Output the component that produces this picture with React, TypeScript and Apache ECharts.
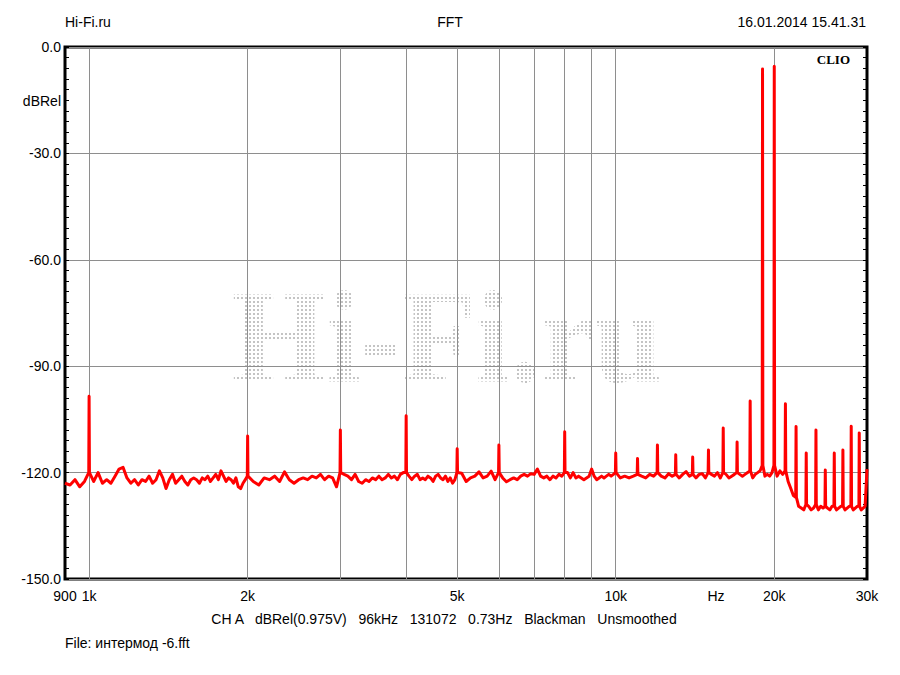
import React, { useEffect, useRef } from "react";
import * as echarts from "echarts";

// Noise floor segments: [start Hz, step Hz, dBRel values]
const noiseLowStart = 900;
const noiseLowStep = 20;
const noiseLow = [
  -123, -123.5, -122, -124, -122.5, -121, -122.5, -120, -123, -122,
  -123, -121, -119, -118.5, -121.5, -123, -122, -123.5, -122, -122.5,
  -121, -123, -122, -119.5, -121.5, -124.5, -122, -120.5, -123, -122,
  -121, -122.5, -123.5, -122, -121.5, -122, -123, -121.5, -122, -121,
  -122.5, -121.5, -120.5, -122, -119.5, -121, -122.5, -121.5, -122, -123,
  -121.5, -124, -124.5, -123, -122,
];

const noiseMidStart = 2000;
const noiseMidStep = 50;
const noiseMid = [
  -121, -122.5, -123.5, -121.5, -122, -121, -122.5, -119.8, -122, -123,
  -122, -121.5, -122, -121, -121.5, -120.5, -122, -121, -121.5, -124,
  -120.5, -120.5, -121, -122, -120.5, -122.5, -123, -122, -122.5, -121.5,
  -122, -121, -122, -121.5, -120.5, -121.5, -121, -122, -120.5, -120,
  -120.5, -121, -122, -121, -120.5, -122, -121.5, -122, -121, -121.5,
  -122.5, -121, -120.5, -121.5, -122, -121, -122.5, -121.5, -123, -122,
];

const noiseHighStart = 5000;
const noiseHighStep = 100;
const noiseHigh = [
  -121, -120.2, -122.5, -121.5, -121, -119.8, -121.5, -121, -119.6, -122,
  -121, -121.5, -122.6, -122, -121.5, -122, -121, -120.5, -121, -120.3,
  -120.5, -119, -121, -121.5, -121, -122, -121, -121.5, -120.5, -121,
  -120.5, -120, -121.5, -120, -121.5, -121, -121.5, -122, -121.5, -121,
  -119, -121, -122, -121.5, -121, -121.5, -121, -120.5, -121, -120.5,
];

const noiseTopStart = 10000;
const noiseTopStep = 200;
const noiseTop = [
  -120.5, -121.5, -121, -121.5, -121, -120.5, -121, -121.5, -120.5, -121,
  -120.5, -121, -121.5, -120.3, -121, -121, -121.5, -120.5, -119.7, -121,
  -121, -121.5, -120.5, -120.3, -121.5, -121, -120.5, -121, -120, -121.5,
  -121, -120.5, -121.5, -121, -120.5, -121, -120.5, -121, -120.5, -120,
  -120.5, -121.5, -120.5, -120, -119.5, -120, -121, -120.5, -121, -120,
];

const noiseUltraStart = 20000;
const noiseUltraStep = 250;
const noiseUltra = [
  -120, -121, -119.5, -120.5, -121, -122.5, -124.5, -126.5, -128, -129.5,
  -130, -130.5, -130, -129.5, -130.5, -130, -130, -130.5, -129.5, -130,
  -130.5, -130, -130.5, -129.5, -130, -130.5, -130, -129.5, -130, -130.5,
  -130, -129.5, -130, -130.5, -130, -129.5, -130, -130.5, -130, -129.5,
  -119,
];

// Spectral lines: [frequency Hz, peak dBRel, skirt dBRel]
const peaks: [number, number, number][] = [
  [1000, -98.5, -120],
  [2000, -109.7, -121],
  [3000, -108, -120],
  [4000, -104, -120],
  [5000, -113.3, -120],
  [6000, -112.2, -120],
  [8000, -108.5, -120],
  [10000, -114.5, -120],
  [11000, -116, -120.5],
  [12000, -112.2, -120],
  [13000, -115, -120.5],
  [14000, -115.6, -120.5],
  [15000, -113.6, -120],
  [16000, -107.4, -120],
  [17000, -111.4, -120],
  [18000, -99.8, -119.5],
  [19000, -6.2, -118],
  [20000, -5.4, -118],
  [21000, -100.6, -119.5],
  [22000, -107, -127],
  [23000, -114.5, -129],
  [24000, -108, -129],
  [25000, -119.3, -129.5],
  [26000, -114.5, -129.5],
  [27000, -113.6, -129.5],
  [28000, -106.9, -129.5],
  [29000, -108.8, -129.5],
];

const xLabelFreqs = [900, 1000, 2000, 5000, 10000, 15500, 20000, 30000];
const xLabelTexts = ["900", "1k", "2k", "5k", "10k", "Hz", "20k", "30k"];
const gridFreqs = [1000, 2000, 3000, 4000, 5000, 6000, 7000, 8000, 9000, 10000, 20000];
const yMin = -150;
const yMax = 0;
const yStep = 30;

function segment(start: number, step: number, vals: number[]): [number, number][] {
  return vals.map((v, i) => [start + step * i, v] as [number, number]);
}

function buildData(): [number, number][] {
  const noise = [
    ...segment(noiseLowStart, noiseLowStep, noiseLow),
    ...segment(noiseMidStart, noiseMidStep, noiseMid),
    ...segment(noiseHighStart, noiseHighStep, noiseHigh),
    ...segment(noiseTopStart, noiseTopStep, noiseTop),
    ...segment(noiseUltraStart, noiseUltraStep, noiseUltra),
  ];
  const peakSet = new Set(peaks.map((p) => p[0]));
  const pts: [number, number][] = noise.filter((p) => !peakSet.has(p[0]));
  peaks.forEach(([f, top, base]) => {
    pts.push([f * 0.9985, base]);
    pts.push([f, top]);
    pts.push([f * 1.0015, base]);
  });
  pts.sort((a, b) => a[0] - b[0]);
  return pts.map(([f, v]) => [Math.log10(f), v]);
}

const SANS = "'Liberation Sans', Arial, sans-serif";
const SERIF = "'Liberation Serif', 'Times New Roman', serif";

export default function App() {
  const ref = useRef<HTMLDivElement>(null);
  useEffect(() => {
    if (!ref.current) return;
    const chart = echarts.init(ref.current, undefined, { renderer: "svg" });

    const c = document.createElement("canvas");
    c.width = 4;
    c.height = 4;
    const ctx = c.getContext("2d");
    if (ctx) {
      ctx.fillStyle = "#ffffff";
      ctx.fillRect(0, 0, 4, 4);
      ctx.clearRect(1, 1, 2, 2);
    }
    const screen: any = { image: c.toDataURL(), repeat: "repeat", imageWidth: 4, imageHeight: 4 };

    const lx = (f: number) => Math.log10(f);
    const option: any = {
      animation: false,
      grid: {
        left: 65,
        right: 33,
        top: 47,
        bottom: 96,
        show: true,
        borderColor: "#000",
        borderWidth: 3,
        backgroundColor: "transparent",
      },
      xAxis: {
        type: "value",
        min: lx(900),
        max: lx(30000),
        axisLine: { show: false },
        axisTick: { show: false, customValues: gridFreqs.map(lx) },
        splitLine: { show: true, lineStyle: { color: "#8e8e8e", width: 1 } },
        axisLabel: {
          customValues: xLabelFreqs.map(lx),
          color: "#000",
          fontSize: 14,
          fontFamily: SANS,
          margin: 10,
          formatter: (v: number) => {
            const i = xLabelFreqs.findIndex((f) => Math.abs(lx(f) - v) < 1e-6);
            return i >= 0 ? xLabelTexts[i] : "";
          },
        },
      },
      yAxis: [
        {
          type: "value",
          min: yMin,
          max: yMax,
          interval: yStep,
          axisLine: { show: false },
          axisTick: { show: true, inside: true, length: 4, lineStyle: { color: "#000" } },
          minorTick: { show: true, splitNumber: 10, length: 4, lineStyle: { color: "#000" } },
          splitLine: { show: true, lineStyle: { color: "#8e8e8e", width: 1 } },
          axisLabel: {
            color: "#000",
            fontSize: 14,
            fontFamily: SANS,
            margin: 4,
            formatter: (v: number) => v.toFixed(1),
          },
        },
        {
          type: "value",
          position: "right",
          min: yMin,
          max: yMax,
          interval: yStep,
          axisLine: { show: false },
          axisTick: { show: true, inside: true, length: 4, lineStyle: { color: "#000" } },
          minorTick: { show: true, splitNumber: 10, length: 4, lineStyle: { color: "#000" } },
          splitLine: { show: false },
          axisLabel: { show: false },
        },
      ],
      series: [
        {
          type: "line",
          data: buildData(),
          showSymbol: false,
          symbol: "none",
          z: 5,
          lineStyle: { color: "#ff0000", width: 3, join: "round" },
          itemStyle: { color: "#ff0000" },
        },
      ],
      graphic: [
        {
          type: "text",
          z: -2,
          x: 447,
          y: 337,
          scaleY: 1.07,
          silent: true,
          style: {
            text: "Hi-Fi.ru",
            x: 0,
            y: 0,
            align: "center",
            verticalAlign: "middle",
            fontFamily: SERIF,
            fontWeight: "bold",
            fontSize: 122,
            fill: "#c4c4c4",
          },
        },
        {
          type: "rect",
          z: -1,
          silent: true,
          shape: { x: 228, y: 288, width: 440, height: 98 },
          style: { fill: screen },
        },
        { type: "text", style: { text: "Hi-Fi.ru", x: 65, y: 22, verticalAlign: "middle", fontFamily: SANS, fontSize: 14, fill: "#000" } },
        { type: "text", style: { text: "FFT", x: 450, y: 22, align: "center", verticalAlign: "middle", fontFamily: SANS, fontSize: 14, fill: "#000" } },
        { type: "text", style: { text: "16.01.2014 15.41.31", x: 866, y: 22, align: "right", verticalAlign: "middle", fontFamily: SANS, fontSize: 14, fill: "#000" } },
        { type: "text", style: { text: "dBRel", x: 61, y: 101, align: "right", verticalAlign: "middle", fontFamily: SANS, fontSize: 14, fill: "#000" } },
        { type: "text", z: 10, style: { text: "CLIO", x: 850, y: 59, align: "right", verticalAlign: "middle", fontFamily: SERIF, fontWeight: "bold", fontSize: 13, fill: "#000" } },
        { type: "text", style: { text: "CH A   dBRel(0.975V)   96kHz   131072   0.73Hz   Blackman   Unsmoothed", x: 444, y: 619, align: "center", verticalAlign: "middle", fontFamily: SANS, fontSize: 14, fill: "#000" } },
        { type: "text", style: { text: "File: интермод -6.fft", x: 65, y: 643, verticalAlign: "middle", fontFamily: SANS, fontSize: 14, fill: "#000" } },
      ],
    };
    chart.setOption(option);
    return () => chart.dispose();
  }, []);
  return (
    <div
      ref={ref}
      style={{ position: "absolute", left: 0, top: 0, width: 900, height: 675, background: "#fff" }}
    />
  );
}
